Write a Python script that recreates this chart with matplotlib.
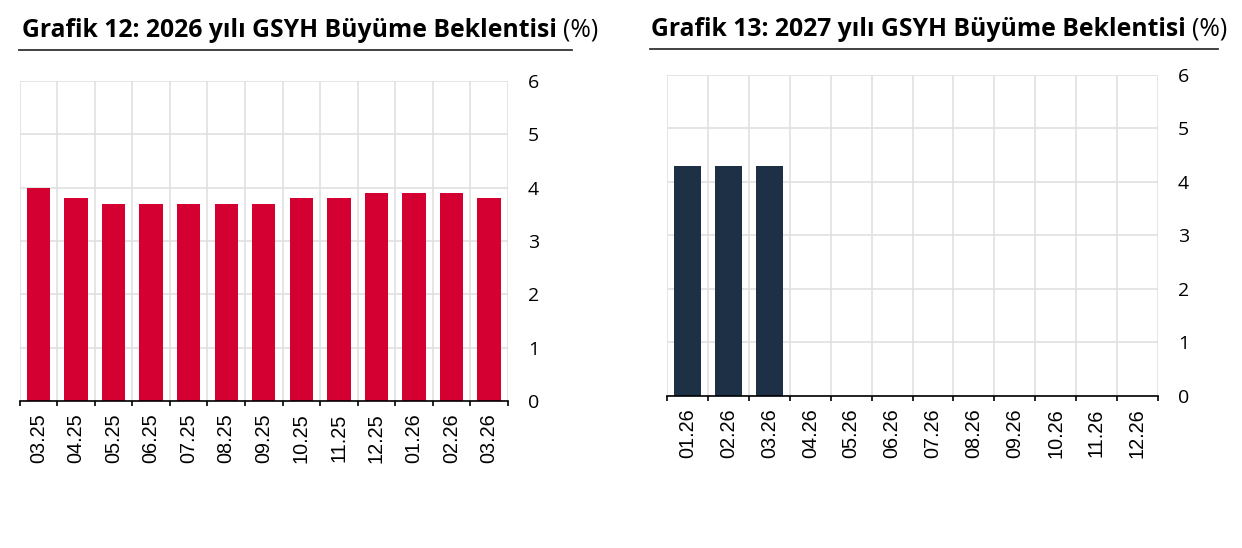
import matplotlib
matplotlib.use('Agg')
import matplotlib.pyplot as plt
import numpy as np
from matplotlib.lines import Line2D

# Grafik 12 data
months_26 = ['03.25', '04.25', '05.25', '06.25', '07.25', '08.25', '09.25',
             '10.25', '11.25', '12.25', '01.26', '02.26', '03.26']
growth_26 = [4.0, 3.8, 3.7, 3.7, 3.7, 3.7, 3.7, 3.8, 3.8, 3.9, 3.9, 3.9, 3.8]

# Grafik 13 data (only first three months observed)
months_27 = ['01.26', '02.26', '03.26', '04.26', '05.26', '06.26',
             '07.26', '08.26', '09.26', '10.26', '11.26', '12.26']
growth_27 = [4.3, 4.3, 4.3, None, None, None, None, None, None, None, None, None]

title_26 = 'Grafik 12: 2026 yılı GSYH Büyüme Beklentisi'
title_27 = 'Grafik 13: 2027 yılı GSYH Büyüme Beklentisi'
y_ticks = [0, 1, 2, 3, 4, 5, 6]

RED = '#D40032'
NAVY = '#1E3045'
GRID = '#E0E0E0'
SANS = 'Open Sans'

W, H = 1242, 548
fig = plt.figure(figsize=(W / 100, H / 100), dpi=100)


def px_axes(x0, x1, ytop, ybot):
    return fig.add_axes([x0 / W, 1 - ybot / H, (x1 - x0) / W, (ybot - ytop) / H])


def draw_panel(ax, labels, values, color, width):
    n = len(labels)
    xs = [i for i, v in enumerate(values) if v is not None]
    hs = [v for v in values if v is not None]
    ax.bar(xs, hs, width=width, color=color, zorder=3)
    ax.set_xlim(-0.5, n - 0.5)
    ax.set_ylim(0, 6)
    bounds = np.arange(n + 1) - 0.5
    ax.set_xticks(bounds)
    ax.set_xticklabels([])
    ax.set_xticks(np.arange(n), minor=True)
    ax.set_xticklabels(labels, minor=True, rotation=90,
                       fontfamily='Liberation Sans', fontsize=14.3)
    ax.tick_params(axis='x', which='major', direction='out', length=3.8,
                   width=1.2, color='black')
    ax.tick_params(axis='x', which='minor', length=0, pad=9)
    ax.yaxis.tick_right()
    ax.set_yticks(y_ticks)
    ax.set_yticklabels([str(t) for t in y_ticks], fontfamily=SANS,
                       fontsize=14)
    ax.tick_params(axis='y', length=0, pad=14.5)
    for lab in ax.get_yticklabels():
        lab.set_horizontalalignment('left')
    ax.grid(True, which='major', color=GRID, lw=1.2, zorder=0)
    ax.set_axisbelow(True)
    for s in ['top', 'left', 'right']:
        ax.spines[s].set_visible(False)
    ax.spines['bottom'].set_color('black')
    ax.spines['bottom'].set_linewidth(1.2)
    ax.spines['bottom'].set_zorder(4)


ax1 = px_axes(19.6, 507.9, 81, 401)
draw_panel(ax1, months_26, growth_26, RED, 0.62)

ax2 = px_axes(667.3, 1157.7, 75, 395.7)
draw_panel(ax2, months_27, growth_27, NAVY, 0.65)

renderer = fig.canvas.get_renderer()


def draw_title(text, x, ybase, x_line0, x_line1, yline):
    t = fig.text(x / W, 1 - ybase / H, text, fontfamily=SANS,
                 fontweight='bold', fontsize=17.8, color='black',
                 va='baseline', ha='left')
    bb = t.get_window_extent(renderer)
    fig.text((bb.x1 + 6) / W, 1 - ybase / H, '(%)', fontfamily=SANS,
             fontsize=17.8, color='black', va='baseline', ha='left')
    fig.add_artist(Line2D([x_line0 / W, x_line1 / W], [1 - yline / H] * 2,
                          color='#333333', lw=1.3))


draw_title(title_26, 22, 36.7, 18.6, 572, 50)
draw_title(title_27, 651, 36, 650, 1218, 48.5)

fig.savefig('out.png', dpi=100)
